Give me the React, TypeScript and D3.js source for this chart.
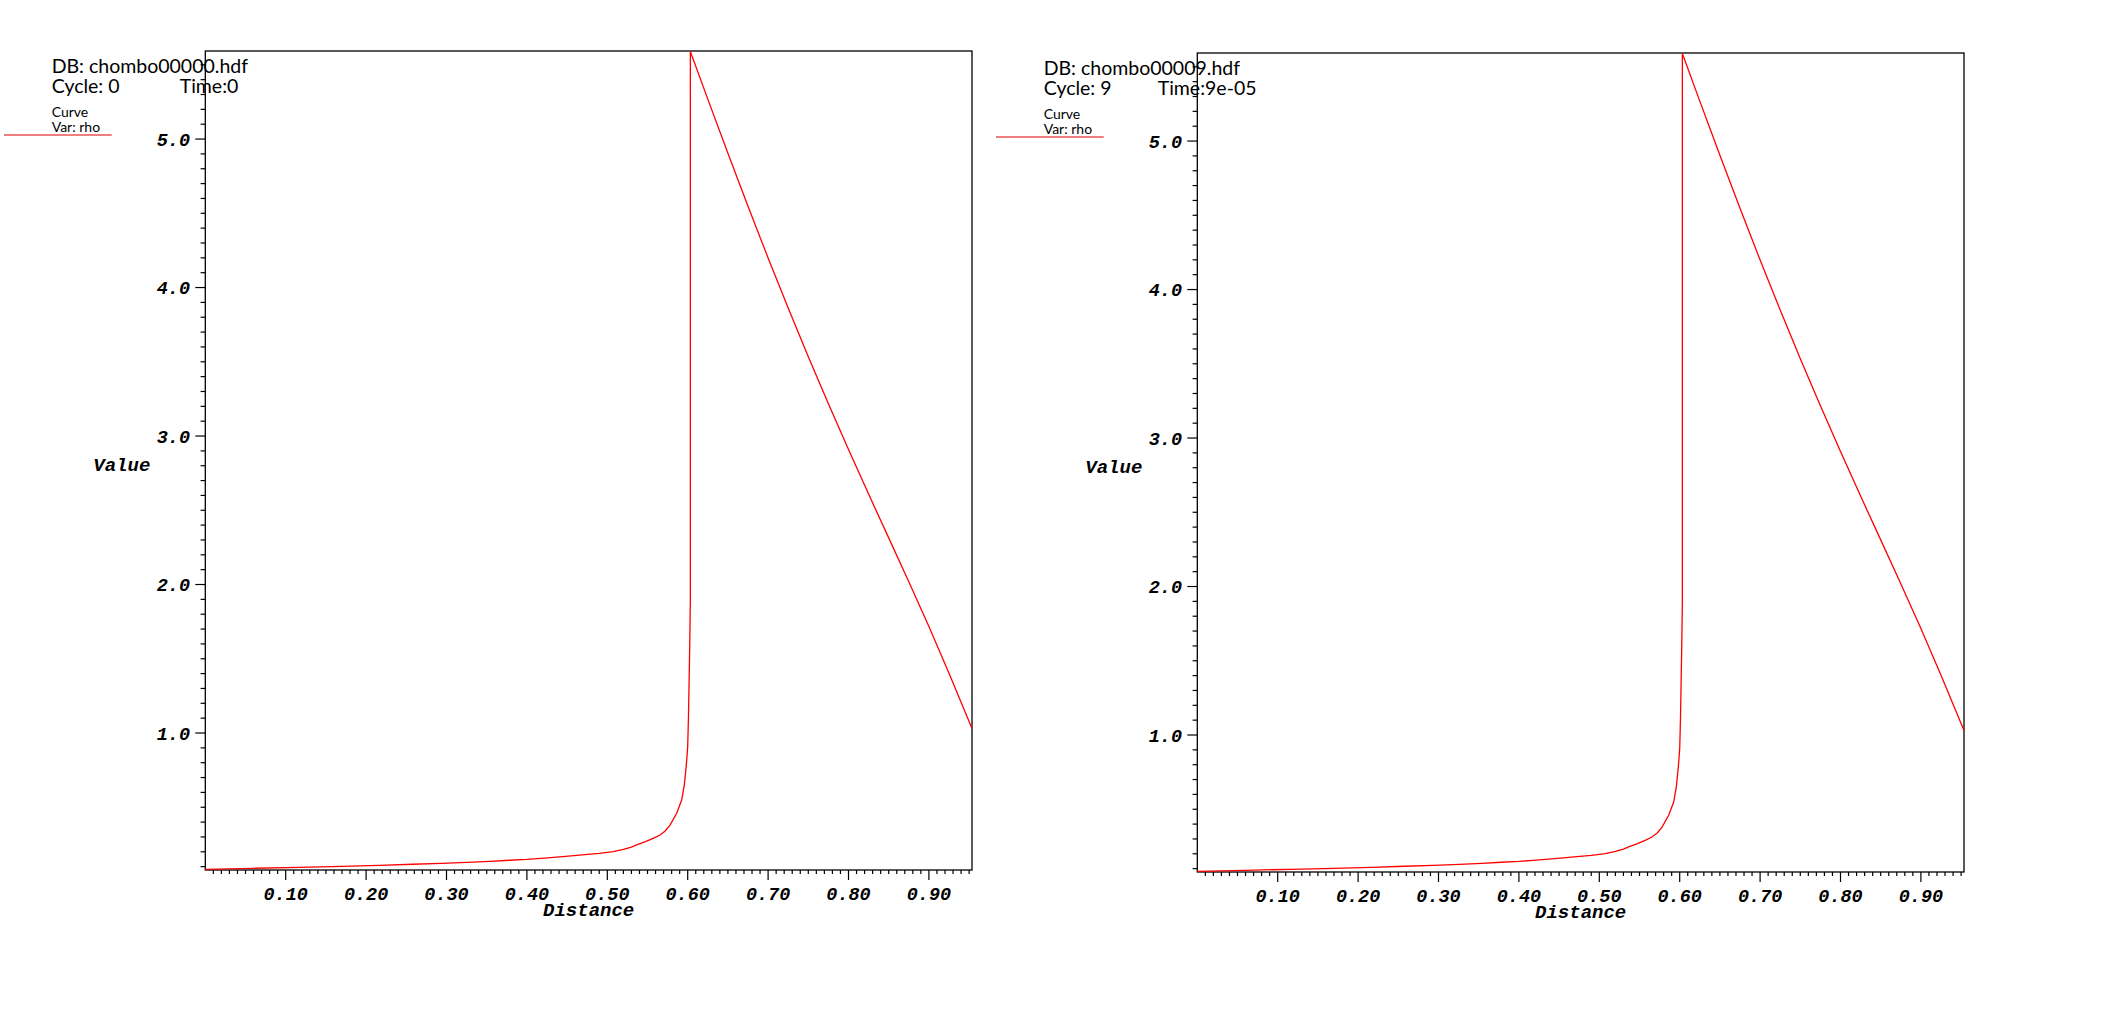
import React, { useEffect, useRef } from "react";
import * as d3 from "d3";

// rho along the line (same profile in both dumps)
const distance = [
  0, 0.059, 0.1166, 0.1696, 0.2165, 0.2575, 0.2935, 0.326, 0.354, 0.378, 0.4,
  0.4175, 0.4333, 0.448, 0.462, 0.472, 0.49, 0.5075, 0.52, 0.53, 0.5365, 0.5475,
  0.557, 0.5655, 0.572, 0.578, 0.5863, 0.5925, 0.5958, 0.5983, 0.6, 0.601,
  0.6025, 0.6033, 0.6033, 0.625, 0.65, 0.675, 0.7, 0.725, 0.75, 0.775, 0.8,
  0.825, 0.85, 0.875, 0.9, 0.925, 0.9536,
];
const rhoCycle0 = [
  0.082, 0.089, 0.0956, 0.1024, 0.109, 0.116, 0.1226, 0.129, 0.136, 0.143,
  0.149, 0.156, 0.163, 0.169, 0.176, 0.181, 0.19, 0.201, 0.216, 0.232, 0.246,
  0.268, 0.29, 0.313, 0.34, 0.38, 0.459, 0.549, 0.65, 0.785, 0.908, 1.12, 1.58,
  1.9, 5.59, 5.269, 4.904, 4.547, 4.199, 3.862, 3.534, 3.217, 2.909, 2.609,
  2.314, 2.019, 1.717, 1.402, 1.03,
];
const rhoCycle9 = [
  0.082, 0.089, 0.0956, 0.1024, 0.109, 0.116, 0.1226, 0.129, 0.136, 0.143,
  0.149, 0.156, 0.163, 0.169, 0.176, 0.181, 0.19, 0.201, 0.216, 0.232, 0.246,
  0.268, 0.29, 0.313, 0.34, 0.38, 0.459, 0.549, 0.65, 0.785, 0.908, 1.12, 1.58,
  1.9, 5.59, 5.269, 4.904, 4.547, 4.199, 3.862, 3.534, 3.217, 2.909, 2.609,
  2.314, 2.019, 1.717, 1.402, 1.03,
];

const xTicks = [0.1, 0.2, 0.3, 0.4, 0.5, 0.6, 0.7, 0.8, 0.9];
const xTickLabels = ["0.10", "0.20", "0.30", "0.40", "0.50", "0.60", "0.70", "0.80", "0.90"];
const yTicks = [1, 2, 3, 4, 5];
const yTickLabels = ["1.0", "2.0", "3.0", "4.0", "5.0"];

const panels = [
  { db: "DB: chombo00000.hdf", cycle: "Cycle: 0", time: "Time:0", timeDx: 128, rho: rhoCycle0, ox: 0, oy: 0 },
  { db: "DB: chombo00009.hdf", cycle: "Cycle: 9", time: "Time:9e-05", timeDx: 114, rho: rhoCycle9, ox: 992, oy: 2 },
];

const MONO = "'Liberation Mono', 'DejaVu Sans Mono', monospace";
const SANS = "Lato, 'Noto Sans', sans-serif";

const App = () => {
  const ref = useRef<SVGSVGElement>(null);

  useEffect(() => {
    const svg = d3.select(ref.current);
    svg.selectAll("*").remove();

    const left = 205.3, right = 972, top = 51, bottom = 870;

    panels.forEach((p) => {
      const g = svg.append("g").attr("transform", `translate(${p.ox},${p.oy})`);

      const x = d3.scaleLinear().domain([0, 0.9536]).range([left, right]);
      const y = d3.scaleLinear().domain([0.0774, 5.593]).range([bottom, top]);

      // header text
      g.append("text").attr("x", 51.7).attr("y", 73.3).style("font-family", SANS).style("font-size", "19.5px").text(p.db);
      g.append("text").attr("x", 51.7).attr("y", 93.3).style("font-family", SANS).style("font-size", "19.5px").text(p.cycle);
      g.append("text").attr("x", 51.7 + p.timeDx).attr("y", 93.3).style("font-family", SANS).style("font-size", "19.5px").text(p.time);
      g.append("text").attr("x", 51.7).attr("y", 116.7).style("font-family", SANS).style("font-size", "14px").text("Curve");
      g.append("text").attr("x", 51.7).attr("y", 131.7).style("font-family", SANS).style("font-size", "14px").text("Var: rho");
      g.append("line").attr("x1", 4).attr("x2", 111.7).attr("y1", 135).attr("y2", 135)
        .attr("stroke", "#e00000").attr("stroke-width", 1.2);

      // frame
      g.append("rect").attr("x", left).attr("y", top).attr("width", right - left).attr("height", bottom - top)
        .attr("fill", "none").attr("stroke", "#000").attr("stroke-width", 1.3);

      // x ticks: minor every 0.01
      const xMinor = d3.range(1, 96).map((i) => i / 100);
      g.append("g").selectAll("line").data(xMinor).enter().append("line")
        .attr("x1", (d) => x(d)).attr("x2", (d) => x(d))
        .attr("y1", bottom).attr("y2", (d, i) => ((i + 1) % 10 === 0 ? bottom + 10 : bottom + 4))
        .attr("stroke", "#000").attr("stroke-width", 1.2);

      g.append("g").selectAll("text").data(xTicks).enter().append("text")
        .attr("x", (d) => x(d)).attr("y", 899.5).attr("text-anchor", "middle")
        .style("font-family", MONO).style("font-weight", "bold").style("font-style", "italic").style("font-size", "18.5px")
        .text((d, i) => xTickLabels[i]);

      // y ticks: minor every 0.1
      const yMinor = d3.range(1, 56).map((i) => i / 10);
      g.append("g").selectAll("line").data(yMinor).enter().append("line")
        .attr("y1", (d) => y(d)).attr("y2", (d) => y(d))
        .attr("x1", left).attr("x2", (d, i) => ((i + 1) % 10 === 0 ? left - 10 : left - 4.7))
        .attr("stroke", "#000").attr("stroke-width", 1.2);

      g.append("g").selectAll("text").data(yTicks).enter().append("text")
        .attr("x", 190).attr("y", (d) => y(d)).attr("dy", "0.36em").attr("text-anchor", "end")
        .style("font-family", MONO).style("font-weight", "bold").style("font-style", "italic").style("font-size", "18.5px")
        .text((d, i) => yTickLabels[i]);

      // axis titles
      g.append("text").attr("x", (left + right) / 2).attr("y", 916).attr("text-anchor", "middle")
        .style("font-family", MONO).style("font-weight", "bold").style("font-style", "italic").style("font-size", "19px")
        .text("Distance");
      g.append("text").attr("x", 93.3).attr("y", 470.7)
        .style("font-family", MONO).style("font-weight", "bold").style("font-style", "italic").style("font-size", "19px")
        .text("Value");

      // curve
      const line = d3.line<number>()
        .x((d, i) => x(distance[i]))
        .y((d) => y(d));
      g.append("path").datum(p.rho).attr("d", line)
        .attr("fill", "none").attr("stroke", "#ff0000").attr("stroke-width", 1.3);
    });
  }, []);

  return (
    <svg ref={ref} width={2110} height={1024}
      style={{ position: "absolute", left: 0, top: 0, background: "#fff" }} />
  );
};

export default App;
